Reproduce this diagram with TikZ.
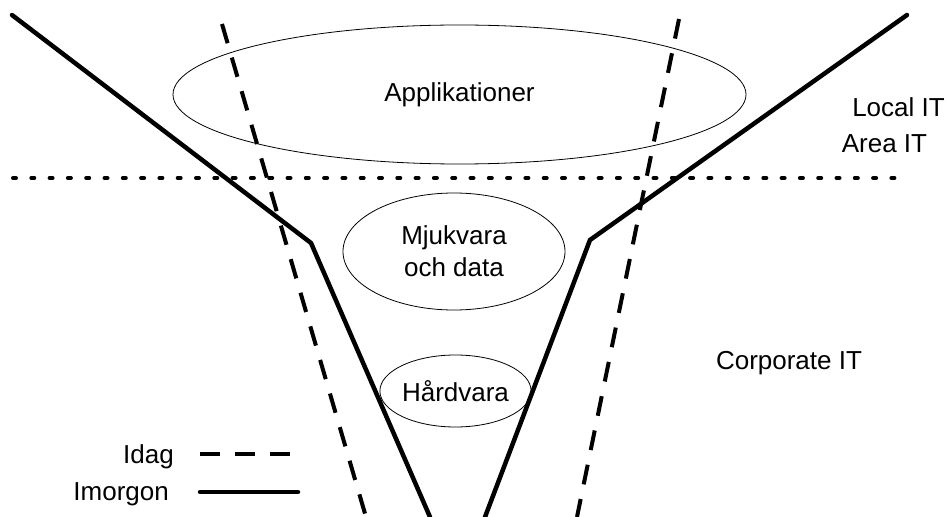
\documentclass[tikz,border=0pt]{standalone}
\usepackage{fontspec}
\setmainfont{Liberation Sans}
\usetikzlibrary{shapes.geometric}
\begin{document}
\begin{tikzpicture}[x=1bp, y=-1bp]
\tikzset{
  layer/.style={draw, ellipse, line width=0.8bp, inner sep=0pt, outer sep=0pt, align=center,
                font=\fontsize{26bp}{32bp}\selectfont},
  txt/.style={inner sep=0pt, font=\fontsize{26bp}{32bp}\selectfont},
  today/.style={line width=4bp, dash pattern=on 20bp off 15bp},
  tomorrow/.style={line width=4.5bp, line cap=round},
  divider/.style={line width=4bp, line cap=round, dash pattern=on 3bp off 15.3bp}
}
\useasboundingbox (0,0) rectangle (949,517);

% funnel outlines
\coordinate (sl0) at (12,15);  \coordinate (sl1) at (311,243); \coordinate (sl2) at (430,517);
\coordinate (sr0) at (907,15); \coordinate (sr1) at (590,240); \coordinate (sr2) at (485,517);
\coordinate (dl0) at (222,24); \coordinate (dl1) at (366,517);
\coordinate (dr0) at (679,19); \coordinate (dr1) at (577,517);
\coordinate (h0) at (13,178);  \coordinate (h1) at (903,178);

% layers
\node[layer, minimum width=573bp, minimum height=139bp] (app) at (459.5,94.5) {Applikationer};
\node[layer, minimum width=222bp, minimum height=117bp] (mjuk) at (454,251.5) {Mjukvara\\och data};
\node[layer, minimum width=133bp, minimum height=72bp] (hard) at (455.5,391) {Hårdvara};

\draw[divider] (h0) -- (h1);
\draw[today] (dl0) -- (dl1);
\draw[today] (dr0) -- (dr1);
\draw[tomorrow] (sl0) -- (sl1) -- (sl2);
\draw[tomorrow] (sr0) -- (sr1) -- (sr2);

% side labels
\node[txt, anchor=base] (local) at (898.5,117) {Local IT};
\node[txt, anchor=base] (area) at (884.5,153) {Area IT};
\node[txt, anchor=base] (corp) at (789,370) {Corporate IT};

% legend
\node[txt, anchor=base east] (idag) at (174,463) {Idag};
\node[txt, anchor=base east] (imorgon) at (169,500) {Imorgon};
\coordinate (i0) at (200,454); \coordinate (i1) at (290,454);
\coordinate (m0) at (200,492); \coordinate (m1) at (298,492);
\draw[today] (i0) -- (i1);
\draw[tomorrow] (m0) -- (m1);
\end{tikzpicture}
\end{document}
